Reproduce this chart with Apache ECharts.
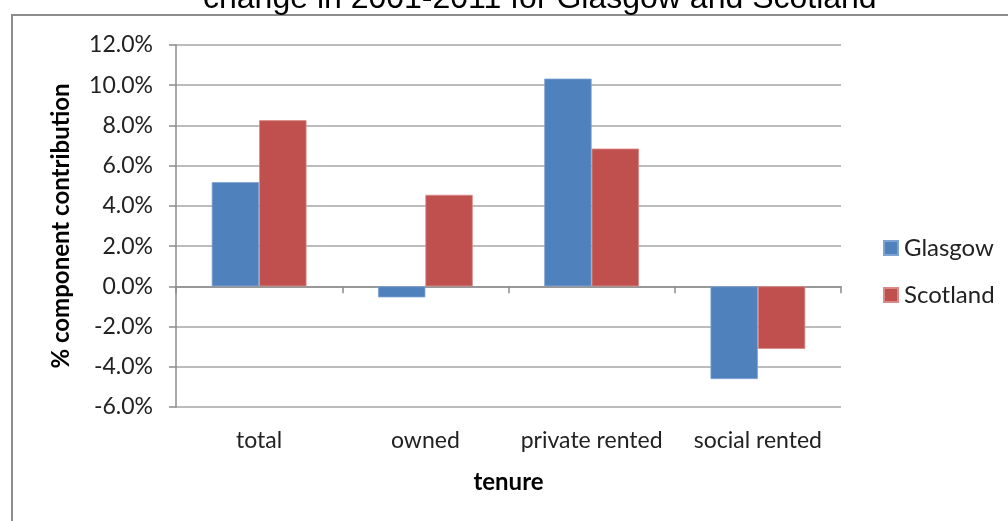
<!DOCTYPE html>
<html>
<head>
<meta charset="utf-8">
<style>
  html, body { margin: 0; padding: 0; background: #fff; }
  #chart { width: 1008px; height: 521px; }
</style>
<script src="https://cdn.jsdelivr.net/npm/echarts@6/dist/echarts.min.js"></script>
</head>
<body>
<div id="chart"></div>
<script>
// Tenure categories and component contribution (%) to household change, 2001-2011
const categories = ['total', 'owned', 'private rented', 'social rented'];
const glasgow = [5.18, -0.55, 10.33, -4.61];
const scotland = [8.26, 4.55, 6.85, -3.11];
const seriesNames = ['Glasgow', 'Scotland'];
const titleText = 'change in 2001-2011 for Glasgow and Scotland';

const axisFont = 'Lato, "Open Sans", sans-serif';
const chart = echarts.init(document.getElementById('chart'), null, { renderer: 'canvas' });

chart.setOption({
  animation: false,
  backgroundColor: '#ffffff',
  graphic: [
    {
      // outer chart frame (left and top edges visible)
      type: 'rect',
      shape: { x: 12, y: 15, width: 1100, height: 600 },
      style: { fill: 'none', stroke: '#8c8c8c', lineWidth: 2 },
      silent: true
    },
    {
      type: 'text',
      left: 203,
      top: -17,
      style: {
        text: titleText,
        font: '32px "Liberation Sans", Arial, sans-serif',
        fill: '#000'
      },
      z: 10
    }
  ],
  legend: {
    orient: 'vertical',
    left: 883,
    top: 236,
    padding: 0,
    itemWidth: 14,
    itemHeight: 14,
    itemGap: 23,
    icon: 'rect',
    textStyle: { fontFamily: axisFont, fontSize: 24, color: '#222', padding: [0, 0, 0, 1] },
    data: seriesNames
  },
  grid: { left: 176, right: 167, top: 45, bottom: 114, containLabel: false },
  xAxis: [
    {
      // axis line through zero with boundary ticks
      type: 'category',
      data: categories,
      axisLine: { onZero: true, lineStyle: { color: '#8c8c8c', width: 1.5 } },
      axisTick: { show: true, length: 7, lineStyle: { color: '#8c8c8c', width: 1.5 } },
      axisLabel: { show: false },
      splitLine: { show: false }
    },
    {
      // category labels along the bottom of the plot
      type: 'category',
      data: categories,
      position: 'bottom',
      axisLine: { show: false, onZero: false },
      axisTick: { show: false },
      axisLabel: { interval: 0, fontFamily: axisFont, fontSize: 23, color: '#222', margin: 22 },
      name: 'tenure',
      nameLocation: 'middle',
      nameGap: 63,
      nameTextStyle: { fontFamily: axisFont, fontSize: 24, fontWeight: 'bold', color: '#000' }
    }
  ],
  yAxis: {
    type: 'value',
    min: -6,
    max: 12,
    interval: 2,
    axisLine: { show: true, lineStyle: { color: '#8c8c8c', width: 1.5 } },
    axisTick: { show: true, length: 7, lineStyle: { color: '#8c8c8c', width: 1.5 } },
    splitLine: { show: true, lineStyle: { color: '#a6a6a6', width: 1.5 } },
    axisLabel: {
      fontFamily: axisFont,
      fontSize: 23,
      color: '#222',
      margin: 23,
      formatter: v => v.toFixed(1) + '%'
    },
    name: '% component contribution',
    nameLocation: 'middle',
    nameGap: 103,
    nameTextStyle: { fontFamily: axisFont, fontSize: 24, fontWeight: 'bold', color: '#000' }
  },
  series: [
    {
      name: seriesNames[0],
      type: 'bar',
      xAxisIndex: 0,
      data: glasgow,
      barGap: '0%',
      barCategoryGap: '43%',
      itemStyle: { color: '#4f81bd', borderColor: '#7fa3d3', borderWidth: 0.8 }
    },
    {
      name: seriesNames[1],
      type: 'bar',
      xAxisIndex: 0,
      data: scotland,
      barGap: '0%',
      barCategoryGap: '43%',
      itemStyle: { color: '#c0504d', borderColor: '#d88a88', borderWidth: 0.8 }
    }
  ]
});
</script>
</body>
</html>
